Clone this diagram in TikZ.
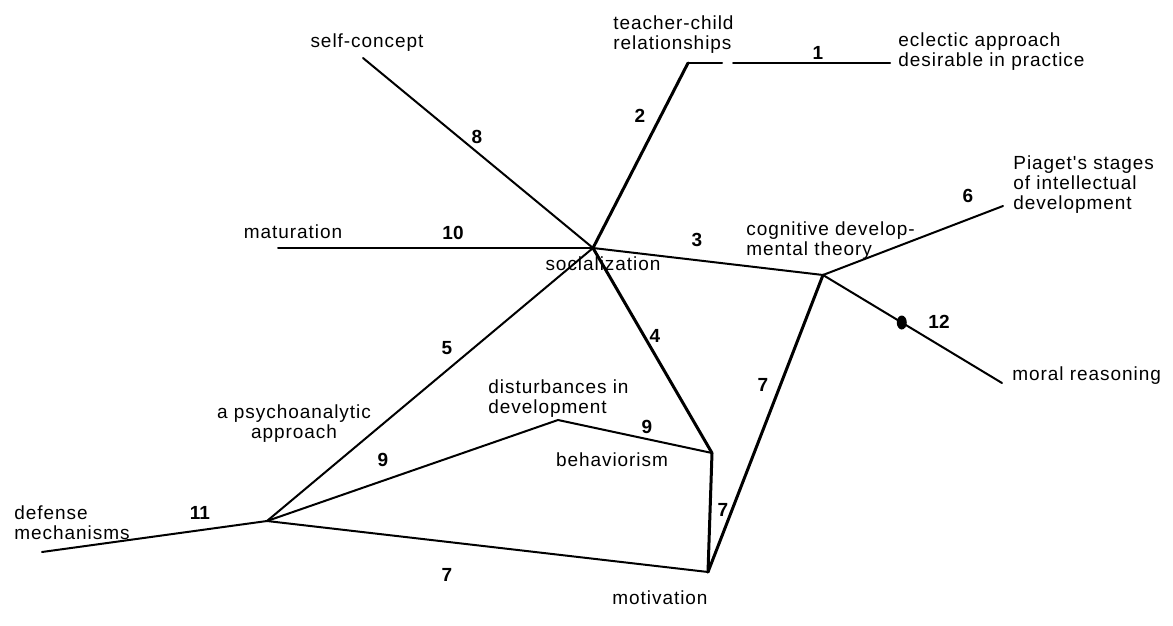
\documentclass[tikz,border=0pt]{standalone}
\usepackage{fontspec}
\setmainfont{Liberation Sans}
\newfontfamily\mapfont[LetterSpace=5]{Liberation Sans}
\usetikzlibrary{calc,positioning}
\tikzset{
  concept/.style={font=\mapfont\fontsize{9.5}{10}\selectfont, inner sep=1pt},
  num/.style={font=\fontsize{9.5}{10}\selectfont\bfseries, inner sep=1pt},
  link/.style={line width=1pt, draw=black, line cap=round},
  heavylink/.style={line width=1.5pt, draw=black, line cap=round}
}

\begin{document}
\begin{tikzpicture}[x=0.5pt,y=-0.5pt]
  \useasboundingbox (0,0) rectangle (1173,626);
  % joints of the map
  \coordinate (soc) at (593,248);
  \coordinate (self) at (363,58);
  \coordinate (tc) at (688,63);
  \coordinate (ecl) at (890,63);
  \coordinate (mat) at (278,248);
  \coordinate (cog) at (823,275);
  \coordinate (pia) at (1003,206);
  \coordinate (mor) at (1002,383);
  \coordinate (beh) at (712,453);
  \coordinate (mot) at (708,572);
  \coordinate (psy) at (267,521);
  \coordinate (dis) at (558,420);
  \coordinate (def) at (42,552);

  % concepts
  \node[concept] (selfl) at (367,43) {self-concept};
  \node[concept, align=left, anchor=west] (tcl) at (611,35) {teacher-child\\relationships};
  \node[concept, align=left, anchor=west] (ecll) at (896,52) {eclectic approach\\desirable in practice};
  \node[concept] (matl) at (293,232) {maturation};
  \node[concept] (socl) at (603,264) {socialization};
  \node[concept, align=left, anchor=west] (cogl) at (744,241) {cognitive develop-\\mental theory};
  \node[concept, align=left, anchor=west] (pial) at (1011,185) {Piaget's stages\\of intellectual\\development};
  \node[concept, anchor=west] (morl) at (1010,376) {moral reasoning};
  \node[concept] (behl) at (612,460) {behaviorism};
  \node[concept, align=left, anchor=west] (disl) at (486,399) {disturbances in\\development};
  \node[concept, align=center] (psyl) at (294,424) {a psychoanalytic\\approach};
  \node[concept, align=left, anchor=west] (defl) at (12,523) {defense\\mechanisms};
  \node[concept] (motl) at (660,598) {motivation};

  % links
  \draw[link] (soc) -- (self);
  \draw[heavylink] (soc) -- (tc);
  \draw[link] (tc) -- ($(tc)+(34,0)$);
  \draw[link] ($(tc)+(45,0)$) -- (ecl);
  \draw[link] (mat) -- (soc);
  \draw[link] (soc) -- (cog);
  \draw[link] (cog) -- (pia);
  \draw[link] (cog) -- (mor);
  \draw[heavylink] (cog) -- (mot);
  \draw[heavylink] (soc) -- (beh);
  \draw[heavylink] (beh) -- (mot);
  \draw[link] (soc) -- (psy);
  \draw[link] (psy) -- (dis) -- (beh);
  \draw[link] (psy) -- (mot);
  \draw[link] (psy) -- (def);
  \fill ($(cog)!0.44!(mor)$) ellipse (5 and 7);

  % link numbers
  \node[num] (n1) at (818,53) {1};
  \node[num] (n2) at (640,116) {2};
  \node[num] (n8) at (477,137) {8};
  \node[num] (n10) at (453,233) {10};
  \node[num] (n3) at (697,240) {3};
  \node[num] (n6) at (968,196) {6};
  \node[num] (n12) at (939,322) {12};
  \node[num] (n4) at (655,336) {4};
  \node[num] (n7a) at (763,385) {7};
  \node[num] (n7b) at (723,510) {7};
  \node[num] (n5) at (447,348) {5};
  \node[num] (n9a) at (383,460) {9};
  \node[num] (n9b) at (647,427) {9};
  \node[num] (n11) at (200,513) {11};
  \node[num] (n7c) at (447,575) {7};
\end{tikzpicture}
\end{document}
